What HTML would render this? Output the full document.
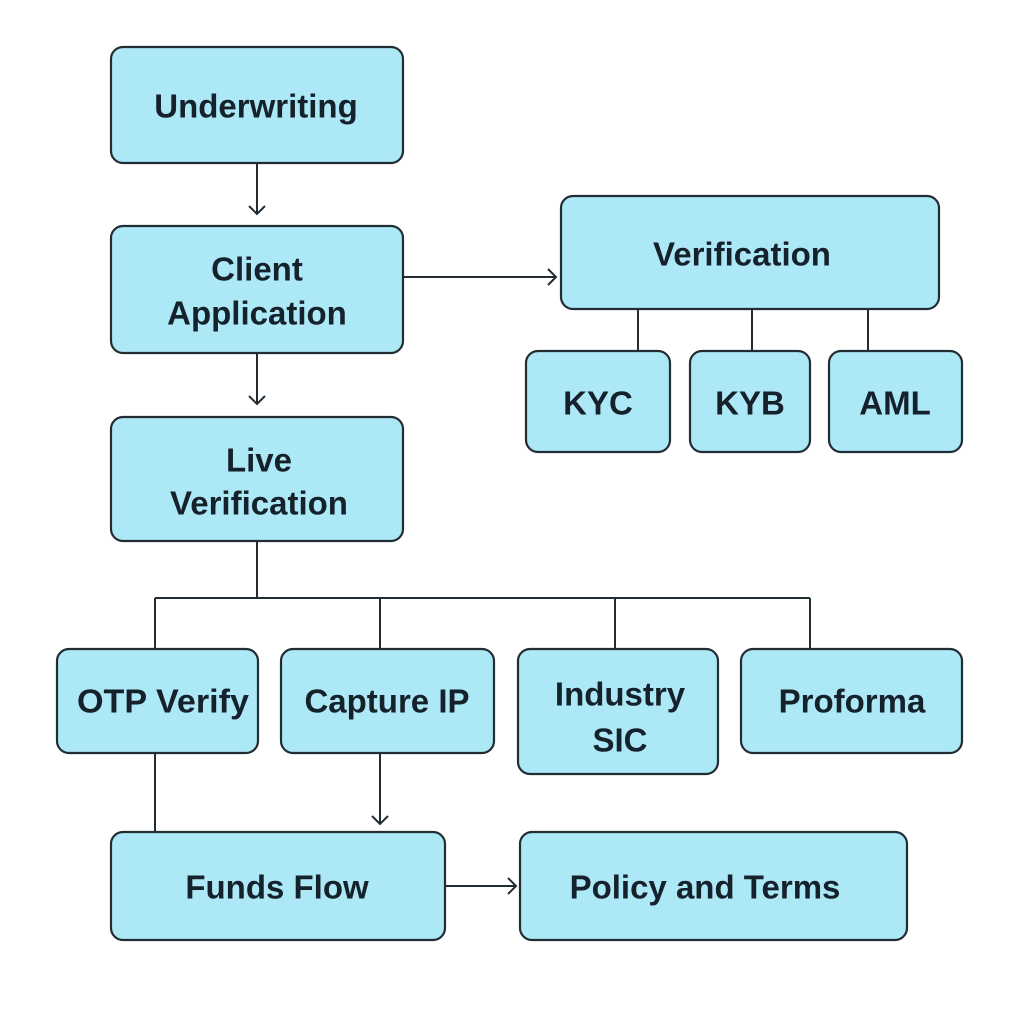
<!DOCTYPE html>
<html><head><meta charset="utf-8"><style>
html,body{margin:0;padding:0;background:#fff;width:1024px;height:1024px;overflow:hidden}
text{font-family:"Liberation Sans",sans-serif;font-size:33px;font-weight:bold;fill:#15212b;text-anchor:middle;dominant-baseline:central}
</style></head><body>
<svg width="1024" height="1024" viewBox="0 0 1024 1024" xmlns="http://www.w3.org/2000/svg">
<g fill="#ade8f6" stroke="#222c33" stroke-width="2.2">
<rect x="111" y="47" width="292" height="116" rx="12"/>
<rect x="111" y="226" width="292" height="127" rx="12"/>
<rect x="561" y="196" width="378" height="113" rx="12"/>
<rect x="526" y="351" width="144" height="101" rx="12"/>
<rect x="690" y="351" width="120" height="101" rx="12"/>
<rect x="829" y="351" width="133" height="101" rx="12"/>
<rect x="111" y="417" width="292" height="124" rx="12"/>
<rect x="57" y="649" width="201" height="104" rx="12"/>
<rect x="281" y="649" width="213" height="104" rx="12"/>
<rect x="518" y="649" width="200" height="125" rx="12"/>
<rect x="741" y="649" width="221" height="104" rx="12"/>
<rect x="111" y="832" width="334" height="108" rx="12"/>
<rect x="520" y="832" width="387" height="108" rx="12"/>
</g>
<g stroke="#222c33" stroke-width="2" fill="none">
<path d="M257 163V214M249 206L257 214L265 206"/>
<path d="M403 277H556M548 269L556 277L548 285"/>
<path d="M638 309V351M752 309V351M868 309V351"/>
<path d="M257 353V404M249 396L257 404L265 396"/>
<path d="M257 541V598M155 598H810M155 598V649M380 598V649M615 598V649M810 598V649"/>
<path d="M155 753V832"/>
<path d="M380 753V824M372 816L380 824L388 816"/>
<path d="M445 886H516M508 878L516 886L508 894"/>
</g>
<text x="256" y="106">Underwriting</text>
<text x="257" y="269">Client</text>
<text x="257" y="313">Application</text>
<text x="742" y="254">Verification</text>
<text x="598" y="403">KYC</text>
<text x="750" y="403">KYB</text>
<text x="895" y="403">AML</text>
<text x="259" y="460">Live</text>
<text x="259" y="503">Verification</text>
<text x="163" y="701" textLength="172" lengthAdjust="spacingAndGlyphs">OTP Verify</text>
<text x="387" y="701">Capture IP</text>
<text x="620" y="694">Industry</text>
<text x="620" y="740">SIC</text>
<text x="852" y="701">Proforma</text>
<text x="277" y="887">Funds Flow</text>
<text x="705" y="887">Policy and Terms</text>
</svg>
</body></html>
